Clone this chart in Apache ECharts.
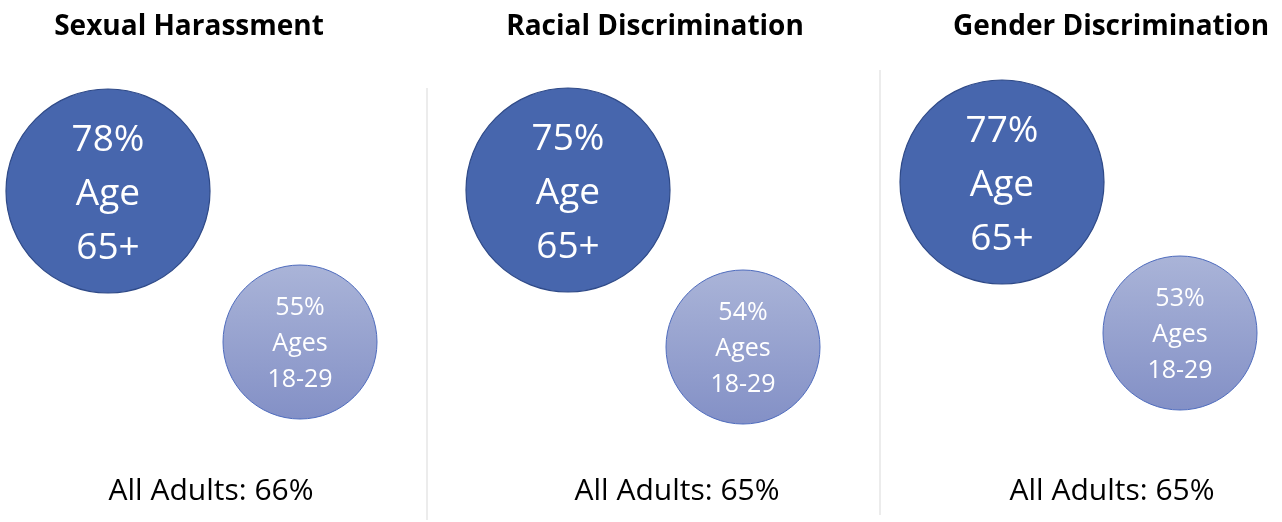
<!DOCTYPE html>
<html lang="en">
<head>
    <meta charset="UTF-8">
    <title>Age gaps</title>
    <script src="https://cdn.jsdelivr.net/npm/echarts@6/dist/echarts.min.js"></script>
    <style>
        html, body { margin: 0; padding: 0; background: #fff; }
        #main { width: 1282px; height: 522px; }
    </style>
</head>
<body>
    <div id="main"></div>
    <script>
        // data
        var topics = ['Sexual Harassment', 'Racial Discrimination', 'Gender Discrimination'];
        var olderPct = [78, 75, 77];      // Age 65+
        var youngerPct = [55, 54, 53];    // Ages 18-29
        var allAdultsPct = [66, 65, 65];
        var olderLabel = 'Age\n65+';
        var youngerLabel = 'Ages\n18-29';

        // layout (pixel grid), one entry per panel
        var bigPos = [[108, 191], [568, 190], [1002, 182]];
        var smallPos = [[300, 342], [743, 347], [1180, 333]];
        var titleX = [184, 650, 1106];
        var footX = [206, 672, 1107];
        var sepX = [427, 880];

        var myChart = echarts.init(document.getElementById('main'));

        var bigData = [], smallData = [];
        for (var i = 0; i < topics.length; i++) {
            bigData.push({ value: [bigPos[i][0], bigPos[i][1], olderPct[i]] });
            smallData.push({ value: [smallPos[i][0], smallPos[i][1], youngerPct[i]] });
        }

        var titles = [];
        for (var j = 0; j < topics.length; j++) {
            titles.push({
                text: topics[j],
                left: titleX[j],
                top: 8,
                textAlign: 'center',
                textStyle: { fontFamily: 'Open Sans', fontWeight: 'bold', fontSize: 28, color: '#000' }
            });
            titles.push({
                text: 'All Adults: ' + allAdultsPct[j] + '%',
                left: footX[j],
                top: 471,
                textAlign: 'center',
                textStyle: { fontFamily: 'Open Sans', fontWeight: 'normal', fontSize: 30, color: '#000' }
            });
        }

        var option = {
            animation: false,
            title: titles,
            grid: { left: 0, right: 0, top: 0, bottom: 0 },
            xAxis: { type: 'value', min: 0, max: 1282, show: false },
            yAxis: { type: 'value', min: 0, max: 522, inverse: true, show: false },
            graphic: [
                { type: 'line', shape: { x1: sepX[0], y1: 88, x2: sepX[0], y2: 520 }, style: { stroke: '#d9d9d9', lineWidth: 1 } },
                { type: 'line', shape: { x1: sepX[1], y1: 70, x2: sepX[1], y2: 515 }, style: { stroke: '#d9d9d9', lineWidth: 1 } }
            ],
            series: [
                {
                    type: 'scatter',
                    name: 'Age 65+',
                    symbol: 'circle',
                    symbolSize: 204,
                    itemStyle: { color: '#4766ad', borderColor: '#2f4a88', borderWidth: 1.2, opacity: 1 },
                    label: {
                        show: true,
                        position: 'inside',
                        offset: [0, 3],
                        color: '#fff',
                        fontFamily: 'Open Sans',
                        fontSize: 37,
                        lineHeight: 54,
                        formatter: function (p) { return p.value[2] + '%\n' + olderLabel; }
                    },
                    data: bigData
                },
                {
                    type: 'scatter',
                    name: 'Ages 18-29',
                    symbol: 'circle',
                    symbolSize: 154,
                    itemStyle: {
                        color: new echarts.graphic.LinearGradient(0, 0, 0, 1, [
                            { offset: 0, color: '#aab4d8' },
                            { offset: 1, color: '#8390c6' }
                        ]),
                        borderColor: '#4f6cbd',
                        borderWidth: 1,
                        opacity: 1
                    },
                    label: {
                        show: true,
                        position: 'inside',
                        offset: [0, 2],
                        color: '#fff',
                        fontFamily: 'Open Sans',
                        fontSize: 25,
                        lineHeight: 36,
                        formatter: function (p) { return p.value[2] + '%\n' + youngerLabel; }
                    },
                    data: smallData
                }
            ]
        };

        myChart.setOption(option);
    </script>
</body>
</html>
